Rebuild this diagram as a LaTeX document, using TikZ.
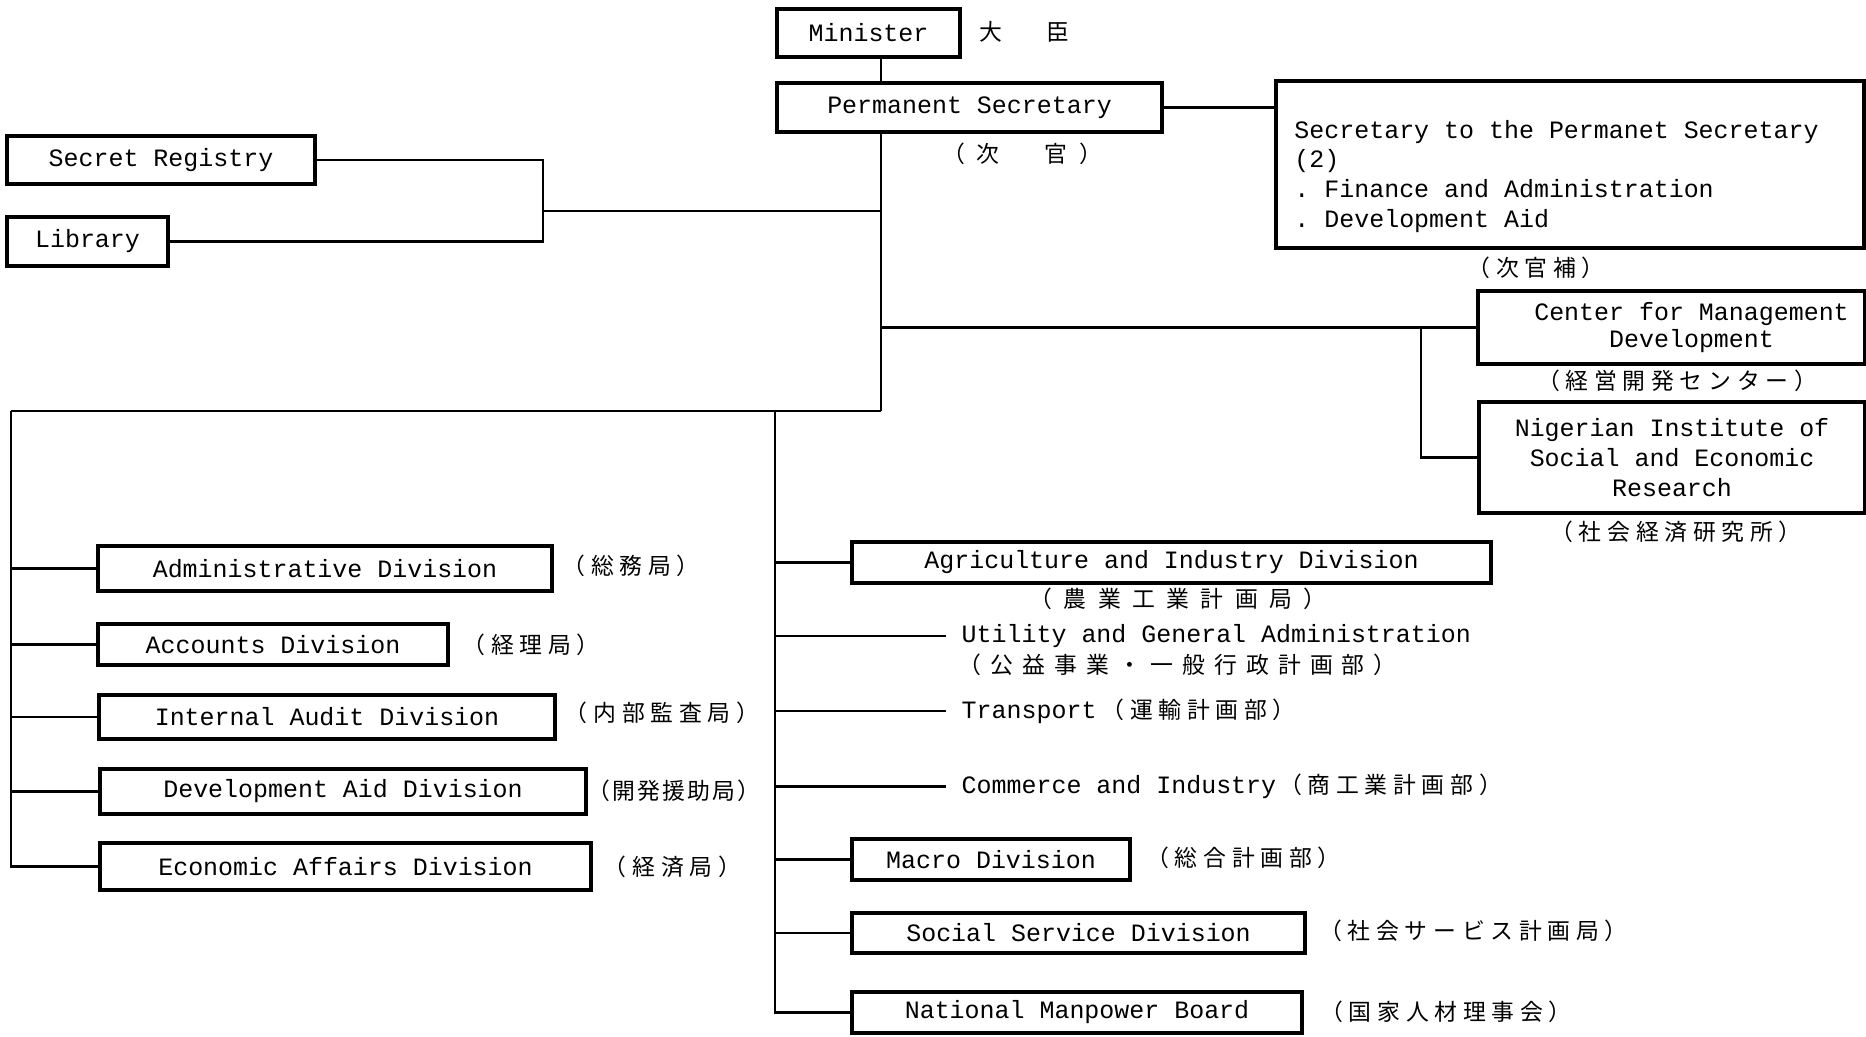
\documentclass[tikz,border=0pt]{standalone}
\usepackage{fontspec}
\setmonofont{Liberation Mono}
\newfontfamily\jpa{Noto Sans CJK JP}
\newfontfamily\jpb[LetterSpace=25]{Noto Sans CJK JP}
\newfontfamily\jpn[LetterSpace=10]{Noto Sans CJK JP}
\newfontfamily\jpw[LetterSpace=40]{Noto Sans CJK JP}
\newfontfamily\jpc[LetterSpace=50]{Noto Sans CJK JP}
\newcommand{\entt}{\ttfamily\fontsize{7.1}{8.5}\selectfont}
\newcommand{\jsize}{\fontsize{6.5}{7}\selectfont}
\tikzset{
  box/.style={draw, line width=0.9pt, inner sep=0pt, font=\entt},
  txt/.style={inner xsep=0.15cm, inner ysep=0pt, font=\entt, anchor=west},
  jp/.style={inner sep=0pt, font=\jpb\jsize},
  link/.style={line width=0.6pt},
}
\begin{document}
\begin{tikzpicture}[x=1cm,y=-1cm]
  \useasboundingbox (0,0) rectangle (18.66,10.37);
  % 大臣・次官
  \node[box, minimum width=1.83cm, minimum height=0.48cm] (min) at (8.685,0.33) {Minister};
  \node[jp, font=\jpa\jsize] (mintag) at (10.24,0.32) {大\hspace{0.44cm}臣};
  \node[box, minimum width=3.85cm, minimum height=0.49cm] (ps) at (9.695,1.075) {Permanent Secretary};
  \node[jp, font=\jpc\jsize] (pstag) at (10.22,1.54) {（次　官）};
  % 次官補
  \node[box, align=left, minimum width=5.88cm, minimum height=1.67cm] (sps) at (15.70,1.645)
    {\rule{0pt}{0.42cm}Secretary to the Permanet Secretary\hspace*{0.27cm}\\(2)\\. Finance and Administration\\. Development Aid};
  \node[jp] (spstag) at (15.36,2.68) {（次官補）};
  % Secret Registry・Library
  \node[box, minimum width=3.08cm, minimum height=0.48cm] (sr) at (1.61,1.60) {Secret Registry};
  \node[box, minimum width=1.61cm, minimum height=0.49cm] (lib) at (0.875,2.415) {Library};
  % 付属機関
  \node[box, align=center, minimum width=3.87cm, minimum height=0.73cm, font=\ttfamily\fontsize{7.1}{6.4}\selectfont] (cmd) at (16.715,3.275)
    {\hspace*{0.4cm}Center for Management\\\hspace*{0.4cm}Development};
  \node[jp] (cmdtag) at (16.77,3.81) {（経営開発センター）};
  \node[box, align=center, minimum width=3.86cm, minimum height=1.11cm] (nis) at (16.72,4.575)
    {Nigerian Institute of\\Social and Economic\\Research};
  \node[jp] (nistag) at (16.76,5.32) {（社会経済研究所）};
  % 左側の局
  \node[box, minimum width=4.54cm, minimum height=0.45cm] (adm) at (3.25,5.685) {Administrative Division};
  \node[jp] (admtag) at (6.31,5.66) {（総務局）};
  \node[box, minimum width=3.50cm, minimum height=0.41cm] (acc) at (2.73,6.445) {Accounts Division};
  \node[jp] (acctag) at (5.31,6.45) {（経理局）};
  \node[box, minimum width=4.56cm, minimum height=0.44cm] (aud) at (3.27,7.17) {Internal Audit Division};
  \node[jp] (audtag) at (6.62,7.13) {（内部監査局）};
  \node[box, minimum width=4.86cm, minimum height=0.45cm] (dev) at (3.43,7.915) {Development Aid Division};
  \node[jp, font=\jpn\jsize] (devtag) at (6.74,7.91) {（開発援助局）};
  \node[box, minimum width=4.91cm, minimum height=0.47cm] (eco) at (3.455,8.665) {Economic Affairs Division};
  \node[jp] (ecotag) at (6.725,8.67) {（経済局）};
  % 右側の計画局・部
  \node[box, minimum width=6.39cm, minimum height=0.41cm] (agr) at (11.715,5.625) {Agriculture and Industry Division};
  \node[jp, font=\jpc\jsize] (agrtag) at (11.78,5.99) {（農業工業計画局）};
  \node[txt] (uti) at (9.46,6.36) {Utility and General Administration};
  \node[jp, font=\jpw\jsize] (utitag) at (11.775,6.65) {（公益事業・一般行政計画部）};
  \node[txt] (tra) at (9.46,7.11) {Transport\hspace{0.05cm}{\jpb\jsize （運輸計画部）}};
  \node[txt] (com) at (9.46,7.865) {Commerce and Industry\hspace{0.03cm}{\jpb\jsize （商工業計画部）}};
  \node[box, minimum width=2.78cm, minimum height=0.41cm] (mac) at (9.91,8.595) {Macro Division};
  \node[jp] (mactag) at (12.435,8.58) {（総合計画部）};
  \node[box, minimum width=4.53cm, minimum height=0.40cm] (soc) at (10.785,9.33) {Social Service Division};
  \node[jp] (soctag) at (14.735,9.31) {（社会サービス計画局）};
  \node[box, minimum width=4.50cm, minimum height=0.41cm] (nmb) at (10.77,10.125) {National Manpower Board};
  \node[jp] (nmbtag) at (14.46,10.12) {（国家人材理事会）};
  % 幹線
  \coordinate (jn) at (8.81,4.11);
  \coordinate (br) at (5.43,2.11);
  \coordinate (bx) at (14.21,3.275);
  \coordinate (lft) at (0.11,4.11);
  \coordinate (rgt) at (7.75,4.11);
  \draw[link] (min.south -| jn) -- (ps.north -| jn);
  \draw[link] (ps.south -| jn) -- (jn);
  \draw[link] (ps.east) -- (ps.east -| sps.west);
  \draw[link] (sr.east) -| (br |- lib.east) -- (lib.east);
  \draw[link] (br) -- (br -| jn);
  \draw[link] (jn |- cmd.west) -- (cmd.west);
  \draw[link] (bx) |- (nis.west);
  \draw[link] (lft) -- (jn);
  % 左右の枝
  \draw[link] (lft) |- (eco.west);
  \foreach \n in {adm,acc,aud,dev}
    \draw[link] (lft |- \n.west) -- (\n.west);
  \draw[link] (rgt) |- (nmb.west);
  \foreach \n in {agr,uti,tra,com,mac,soc}
    \draw[link] (rgt |- \n.west) -- (\n.west);
\end{tikzpicture}
\end{document}
